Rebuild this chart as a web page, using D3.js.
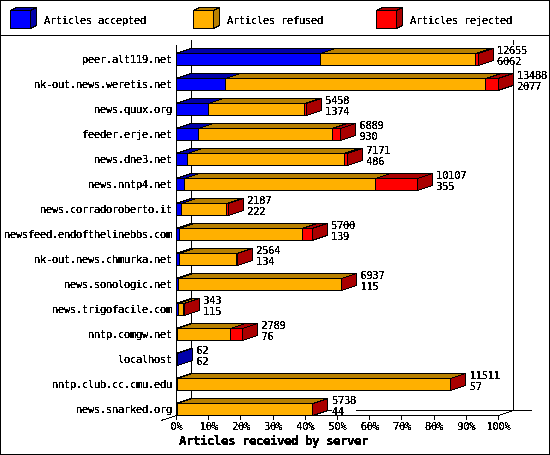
<!DOCTYPE html>
<html>
<head>
<meta charset="utf-8">
<script src="https://cdnjs.cloudflare.com/ajax/libs/d3/7.8.5/d3.min.js"></script>
<style>
  html, body { margin: 0; padding: 0; background: #fff; }
  svg { display: block; }
  text { font-family: "DejaVu Sans Mono", monospace; font-size: 10.4px; letter-spacing: -0.26px; fill: #000; }
</style>
</head>
<body>
<script>
var w = 550;
var h = 455;

var categories = ["peer.alt119.net", "nk-out.news.weretis.net", "news.quux.org", "feeder.erje.net",
  "news.dne3.net", "news.nntp4.net", "news.corradoroberto.it", "newsfeed.endofthelinebbs.com",
  "nk-out.news.chmurka.net", "news.sonologic.net", "news.trigofacile.com", "nntp.comgw.net",
  "localhost", "nntp.club.cc.cmu.edu", "news.snarked.org"];
var totals = [12655, 13488, 5458, 6889, 7171, 10107, 2187, 5700, 2564, 6937, 343, 2789, 62, 11511, 5738];
var accepted = [6062, 2077, 1374, 930, 486, 355, 222, 139, 134, 115, 115, 76, 62, 57, 44];
var refused = [6503, 10908, 4004, 5609, 6555, 8007, 1885, 5141, 2420, 6812, 213, 2210, 0, 11444, 5684];
var rejected = [90, 503, 80, 350, 130, 1745, 80, 420, 10, 10, 15, 503, 0, 10, 10];
var seriesNames = ["Articles accepted", "Articles refused", "Articles rejected"];
var percentTicks = [0, 10, 20, 30, 40, 50, 60, 70, 80, 90, 100];

var front = ["#0000ff", "#ffb000", "#ff0000"];
var dark = ["#0000aa", "#b88000", "#aa0000"];
var dx = 15, dy = 5, barH = 12;

var svg = d3.select("body").append("svg")
  .attr("width", w)
  .attr("height", h)
  .attr("shape-rendering", "crispEdges");

// threshold the glyph alpha so the text looks like the original bitmap font
var filter = svg.append("defs").append("filter").attr("id", "hard")
  .attr("x", "-5%").attr("y", "-20%").attr("width", "110%").attr("height", "140%");
filter.append("feComponentTransfer").append("feFuncA")
  .attr("type", "discrete").attr("tableValues", "0 1 1 1");

svg.append("rect").attr("x", 0.5).attr("y", 0.5).attr("width", w - 1).attr("height", h - 1)
  .attr("fill", "#fff").attr("stroke", "#000");
svg.append("line").attr("x1", 0).attr("x2", w).attr("y1", 35.5).attr("y2", 35.5).attr("stroke", "#000");

var xScale = d3.scaleLinear().domain([0, d3.max(totals)]).range([176, 498]);
var pctScale = d3.scaleLinear().domain([0, 100]).range([176, 498]);
var yScale = d3.scaleBand().domain(categories).range([41, 416]);

// back wall lines
var walls = svg.append("g").attr("stroke", "#000").attr("fill", "none");
walls.append("line").attr("x1", 191.5).attr("x2", 191.5).attr("y1", 40).attr("y2", 410);
walls.append("line").attr("x1", 513.5).attr("x2", 513.5).attr("y1", 40).attr("y2", 410);
walls.append("line").attr("x1", 191.5).attr("x2", 532).attr("y1", 410.5).attr("y2", 410.5);
walls.append("line").attr("x1", 498.5).attr("x2", 513.5).attr("y1", 415.5).attr("y2", 410.5);
walls.append("line").attr("x1", 161).attr("x2", 176.5).attr("y1", 420.5).attr("y2", 415.5);
walls.append("line").attr("x1", 176.5).attr("x2", 176.5).attr("y1", 45).attr("y2", 416);

// bars
var bars = svg.selectAll("g.bar").data(categories).enter().append("g").attr("class", "bar");
bars.each(function (name, i) {
  var g = d3.select(this);
  var y = yScale(name) + 12.5;
  var vals = [accepted[i], refused[i], rejected[i]];
  var sum = 0, last = 0;
  vals.forEach(function (v, s) { if (v > 0) last = s; });
  vals.forEach(function (v, s) {
    if (v <= 0) return;
    var x0 = xScale(sum);
    var x1 = xScale(sum + v);
    sum += v;
    g.append("path")
      .attr("d", "M" + x0 + "," + y + "L" + (x0 + dx) + "," + (y - dy) + "L" + (x1 + dx) + "," + (y - dy) + "L" + x1 + "," + y + "Z")
      .attr("fill", dark[s]).attr("stroke", "#000");
    g.append("rect").attr("x", x0).attr("y", y).attr("width", x1 - x0).attr("height", barH)
      .attr("fill", front[s]).attr("stroke", "#000");
    if (s === last) {
      g.append("path")
        .attr("d", "M" + x1 + "," + y + "L" + (x1 + dx) + "," + (y - dy) + "V" + (y - dy + barH) + "L" + x1 + "," + (y + barH) + "Z")
        .attr("fill", dark[s]).attr("stroke", "#000");
    }
  });
});

// x axis
var xAxis = d3.axisBottom(pctScale)
  .tickValues(percentTicks)
  .tickSize(5)
  .tickPadding(3)
  .tickFormat(function (d) { return d + "%"; });
var axisG = svg.append("g").attr("transform", "translate(0,415)").call(xAxis);
axisG.selectAll("path, line").attr("stroke", "#000");
axisG.selectAll("text").attr("filter", "url(#hard)");
axisG.attr("font-family", null).attr("font-size", null);

// value labels, white behind them hides the wall lines
var labels = svg.selectAll("g.lab").data(categories).enter().append("g").attr("class", "lab");
labels.each(function (name, i) {
  var g = d3.select(this);
  var cy = yScale(name) + 18;
  var tx = xScale(totals[i]) + dx + 4;
  var wide = Math.max(String(totals[i]).length, String(accepted[i]).length) * 6;
  g.append("rect").attr("x", tx).attr("y", cy - 14).attr("width", wide).attr("height", 18).attr("fill", "#fff");
  g.append("text").attr("x", tx).attr("y", cy - 5).attr("filter", "url(#hard)").text(totals[i]);
  g.append("text").attr("x", tx).attr("y", cy + 6).attr("filter", "url(#hard)").text(accepted[i]);
  g.append("text").attr("x", 172).attr("y", cy + 4).attr("text-anchor", "end").attr("filter", "url(#hard)").text(name);
});

// legend
var legendX = d3.scalePoint().domain(seriesNames).range([10, 376]);
seriesNames.forEach(function (name, s) {
  var lx = legendX(name) + 0.5, ly = 10.5, lw = 20, lh = 18, ldx = 6, ldy = 3;
  var g = svg.append("g").attr("stroke", "#000");
  g.append("path").attr("d", "M" + lx + "," + ly + "l" + ldx + "," + (-ldy) + "h" + lw + "l" + (-ldx) + "," + ldy + "Z").attr("fill", dark[s]);
  g.append("path").attr("d", "M" + (lx + lw) + "," + ly + "l" + ldx + "," + (-ldy) + "v" + lh + "l" + (-ldx) + "," + ldy + "Z").attr("fill", dark[s]);
  g.append("rect").attr("x", lx).attr("y", ly).attr("width", lw).attr("height", lh).attr("fill", front[s]);
  svg.append("text").attr("x", legendX(name) + 34).attr("y", 24).attr("filter", "url(#hard)").text(name);
});

// axis title
svg.append("text").attr("x", 179).attr("y", 445)
  .attr("font-weight", "bold").style("font-size", "12.5px").style("letter-spacing", "-0.53px")
  .attr("filter", "url(#hard)")
  .text("Articles received by server");
</script>
</body>
</html>
